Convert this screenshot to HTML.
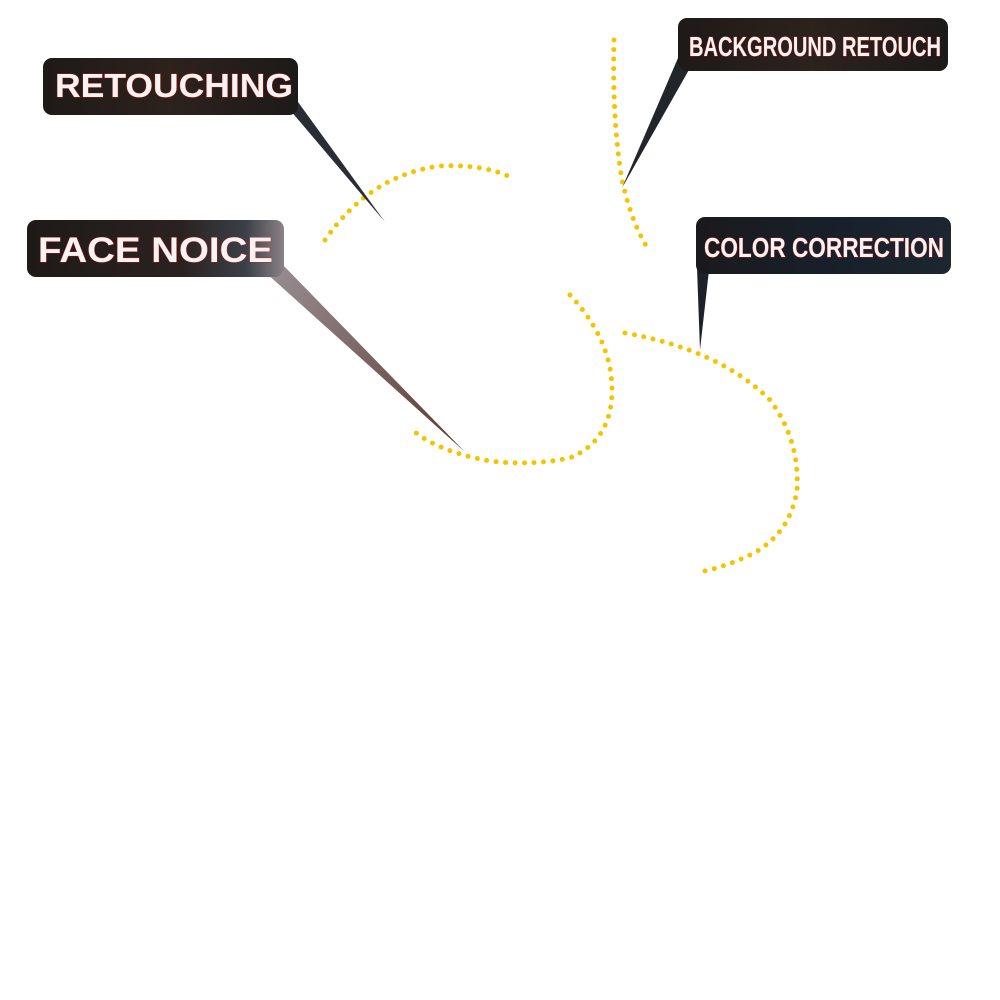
<!DOCTYPE html>
<html><head><style>
html,body{margin:0;padding:0;background:#fff;width:1000px;height:1000px;overflow:hidden}
svg text{font-family:"Liberation Sans",sans-serif;font-weight:bold;fill:#f4f4f4;stroke:#e01010;stroke-width:0.8;paint-order:stroke}
</style></head><body>
<svg width="1000" height="1000" viewBox="0 0 1000 1000">
<defs>
<linearGradient id="g1" x1="0" x2="1"><stop offset="0" stop-color="#1e1a18"/><stop offset="0.5" stop-color="#2d221c"/><stop offset="1" stop-color="#1c1a1a"/></linearGradient>
<linearGradient id="g2" x1="0" x2="1"><stop offset="0" stop-color="#1e1a18"/><stop offset="0.6" stop-color="#2a2220"/><stop offset="0.85" stop-color="#3a4048"/><stop offset="1" stop-color="#8a8286"/></linearGradient>
<linearGradient id="g3" x1="0" x2="1"><stop offset="0" stop-color="#1a1a1c"/><stop offset="0.5" stop-color="#17202a"/><stop offset="1" stop-color="#1c2630"/></linearGradient>
<linearGradient id="p2" x1="0" y1="0" x2="1" y2="1"><stop offset="0" stop-color="#9a9096"/><stop offset="1" stop-color="#5a3a30"/></linearGradient>
</defs>
<g fill="none" stroke="#f5c400" stroke-width="5" stroke-linecap="round" stroke-dasharray="0 9.5">
<path d="M325,240 Q370,175 440,166 Q485,164 512,178"/>
<path d="M614,40 Q612,120 622,180 Q632,225 650,252"/>
<path d="M570,295 Q612,340 612,390 Q612,440 570,458 Q530,466 490,461 Q440,452 415,432"/>
<path d="M625,333 Q720,350 770,400 Q800,440 797,490 Q790,535 750,555 Q725,567 700,572"/>
</g>
<polygon points="290,110 298,102 385,222" fill="#2a2e34"/>
<polygon points="265,272 282,264 465,452" fill="url(#p2)"/>
<polygon points="678,58 690,68 622,188" fill="#22252a"/>
<polygon points="697,268 709,270 700,350" fill="#1e2228"/>
<rect x="43" y="58" width="255" height="57" rx="9" fill="url(#g1)"/>
<rect x="27" y="220" width="257" height="57" rx="9" fill="url(#g2)"/>
<rect x="678" y="18" width="270" height="53" rx="9" fill="url(#g1)"/>
<rect x="696" y="217" width="255" height="57" rx="9" fill="url(#g3)"/>
<text x="55" y="97" font-size="33" textLength="238" lengthAdjust="spacingAndGlyphs">RETOUCHING</text>
<text x="38" y="262" font-size="35" textLength="235" lengthAdjust="spacingAndGlyphs">FACE NOICE</text>
<text x="689" y="56" font-size="28" textLength="252" lengthAdjust="spacingAndGlyphs">BACKGROUND RETOUCH</text>
<text x="704" y="257" font-size="28" textLength="240" lengthAdjust="spacingAndGlyphs">COLOR CORRECTION</text>
</svg>
</body></html>
